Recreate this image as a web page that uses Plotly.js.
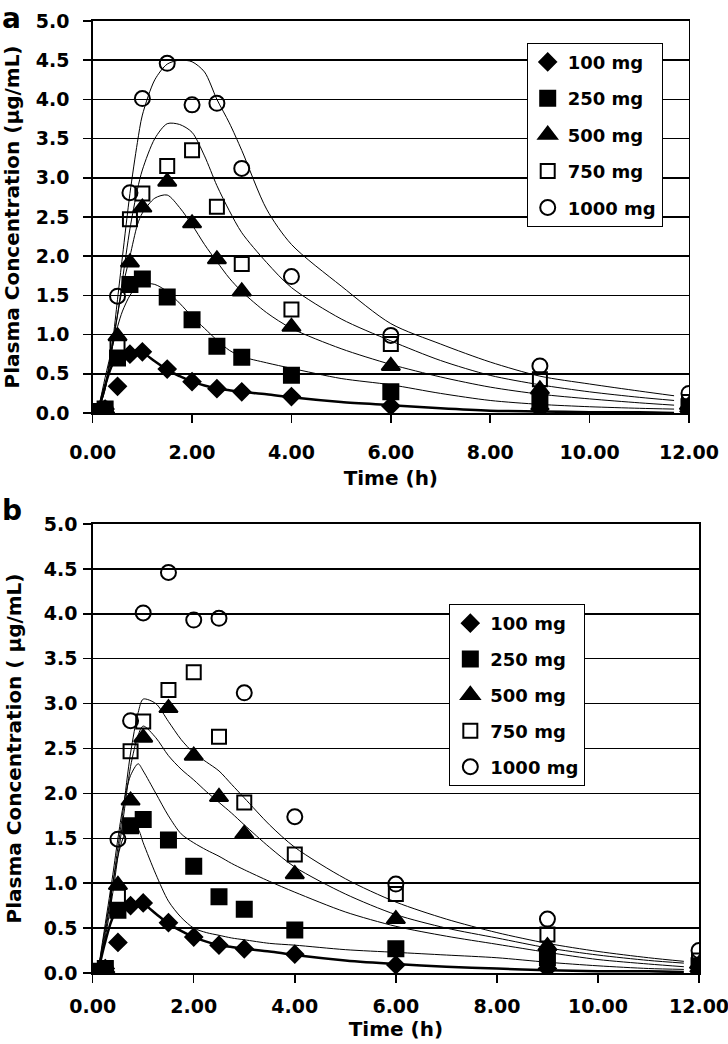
<!DOCTYPE html>
<html>
<head>
<meta charset="utf-8">
<script src="https://cdn.plot.ly/plotly-3.0.1.min.js"></script>
<style>body{margin:0;background:#fff}#plot{width:728px;height:1044px}</style>
</head>
<body>
<div id="plot"></div>
<script>
// observed concentrations (same in both panels)
var obsTime = [0, 0.25, 0.5, 0.75, 1, 1.5, 2, 2.5, 3, 4, 6, 9, 12];
var c100  = [0, 0.05, 0.34, 0.75, 0.78, 0.56, 0.40, 0.31, 0.27, 0.21, 0.09, 0.05, 0.02];
var c250  = [0.02, 0.05, 0.70, 1.64, 1.71, 1.48, 1.19, 0.85, 0.71, 0.48, 0.27, 0.17, 0.08];
var c500  = [0, 0.05, 0.98, 1.92, 2.62, 2.95, 2.42, 1.96, 1.55, 1.10, 0.60, 0.30, 0.10];
var c750  = [0, 0.05, 0.85, 2.47, 2.80, 3.15, 3.35, 2.63, 1.90, 1.32, 0.88, 0.43, 0.14];
var c1000 = [0, 0.05, 1.49, 2.81, 4.01, 4.46, 3.93, 3.95, 3.12, 1.74, 0.99, 0.60, 0.25];

// model curves
var fitTime = [0.1, 0.25, 0.4, 0.5, 0.6, 0.75, 0.9, 1.0, 1.25, 1.5, 1.75, 2.0, 2.25, 2.5, 2.75, 3.0, 3.5, 4.0, 5.0, 6.0, 7.0, 8.0, 9.0, 10.0, 11.0, 11.7];
// panel a
var fa100  = [0, 0.35, 0.62, 0.68, 0.72, 0.75, 0.77, 0.77, 0.66, 0.55, 0.47, 0.40, 0.35, 0.31, 0.29, 0.27, 0.24, 0.20, 0.14, 0.10, 0.06, 0.03, 0.02, 0.01, 0.01, 0.0];
var fa250  = [0, 0.45, 0.85, 1.10, 1.30, 1.50, 1.62, 1.65, 1.64, 1.55, 1.40, 1.23, 1.08, 0.93, 0.80, 0.72, 0.64, 0.57, 0.44, 0.36, 0.25, 0.16, 0.11, 0.08, 0.06, 0.05];
var fa500  = [0, 0.35, 0.90, 1.25, 1.60, 2.00, 2.40, 2.55, 2.74, 2.78, 2.62, 2.40, 2.15, 1.93, 1.72, 1.55, 1.28, 1.08, 0.82, 0.62, 0.46, 0.33, 0.24, 0.18, 0.13, 0.10];
var fa750  = [0, 0.30, 0.85, 1.25, 1.70, 2.35, 2.85, 3.10, 3.50, 3.69, 3.68, 3.58, 3.28, 2.90, 2.58, 2.30, 1.92, 1.60, 1.20, 0.92, 0.67, 0.48, 0.36, 0.27, 0.20, 0.16];
var fa1000 = [0, 0.30, 0.90, 1.45, 2.00, 2.80, 3.45, 3.80, 4.25, 4.45, 4.50, 4.48, 4.35, 4.00, 3.70, 3.35, 2.60, 2.15, 1.62, 1.14, 0.88, 0.65, 0.47, 0.37, 0.28, 0.22];
// panel b
var fb100  = [0, 0.35, 0.62, 0.68, 0.72, 0.75, 0.77, 0.77, 0.66, 0.55, 0.47, 0.40, 0.35, 0.31, 0.29, 0.27, 0.24, 0.20, 0.14, 0.10, 0.07, 0.05, 0.03, 0.02, 0.02, 0.01];
var fb250  = [0, 0.50, 1.00, 1.30, 1.50, 1.65, 1.60, 1.45, 1.10, 0.80, 0.62, 0.50, 0.45, 0.42, 0.39, 0.37, 0.33, 0.31, 0.26, 0.23, 0.20, 0.17, 0.12, 0.08, 0.05, 0.04];
var fb500  = [0, 0.55, 1.10, 1.50, 1.85, 2.20, 2.33, 2.25, 2.00, 1.75, 1.55, 1.45, 1.37, 1.30, 1.22, 1.15, 1.02, 0.90, 0.68, 0.52, 0.41, 0.32, 0.23, 0.15, 0.10, 0.07];
var fb750  = [0, 0.40, 0.90, 1.30, 1.70, 2.30, 2.65, 2.75, 2.62, 2.42, 2.27, 2.15, 2.02, 1.90, 1.78, 1.65, 1.40, 1.18, 0.88, 0.65, 0.50, 0.39, 0.28, 0.20, 0.14, 0.11];
var fb1000 = [0, 0.45, 1.00, 1.40, 1.80, 2.45, 2.90, 3.05, 3.00, 2.80, 2.60, 2.45, 2.35, 2.25, 2.10, 1.95, 1.65, 1.40, 1.05, 0.79, 0.60, 0.45, 0.33, 0.24, 0.17, 0.13];

var doseNames = ['100 mg', '250 mg', '500 mg', '750 mg', '1000 mg'];
var obsSets = [c100, c250, c500, c750, c1000];
var fitA = [fa100, fa250, fa500, fa750, fa1000];
var fitB = [fb100, fb250, fb500, fb750, fb1000];
var symbols = ['diamond', 'square', 'triangle-up', 'square-open', 'circle-open'];
var sizes = [13, 15, 16, 14, 15];

var data = [];
function addPanel(fits, xa, ya, leg) {
  fits.forEach(function (f, i) {
    data.push({
      x: fitTime, y: f, xaxis: xa, yaxis: ya, mode: 'lines', showlegend: false,
      line: {color: '#000', width: i === 0 ? 2.5 : 1, shape: 'spline', smoothing: 0.8},
      hoverinfo: 'skip'
    });
  });
  obsSets.forEach(function (c, i) {
    data.push({
      x: obsTime, y: c, xaxis: xa, yaxis: ya, mode: 'markers', name: doseNames[i],
      legend: leg, legendgroup: leg + i,
      marker: {symbol: symbols[i], size: sizes[i], color: '#000', line: {color: '#000', width: 2}}
    });
  });
}
addPanel(fitA, 'x', 'y', 'legend');
addPanel(fitB, 'x2', 'y2', 'legend2');

var fnt = {family: 'DejaVu Sans', size: 19, color: '#000', weight: 'bold'};
function xAx(dom, anchor, standoff, tstand) {
  return {
    domain: dom, anchor: anchor, range: [0, 12], dtick: 2, tick0: 0, tickformat: '.2f',
    ticks: 'outside', ticklen: 8, tickwidth: 1.5, tickcolor: '#000',
    showline: true, linewidth: 1.5, linecolor: '#000', mirror: true,
    showgrid: false, zeroline: false, tickfont: fnt, ticklabelstandoff: tstand,
    ticklabeloverflow: 'allow',
    title: {text: 'Time (h)', font: {family: 'DejaVu Sans', size: 20, weight: 'bold', color: '#000'}, standoff: standoff}
  };
}
function yAx(dom, anchor, titleText, standoff, tstand) {
  return {
    domain: dom, anchor: anchor, range: [0, 5], dtick: 0.5, tick0: 0, tickformat: '.1f',
    ticks: 'outside', ticklen: 8, tickwidth: 1.5, tickcolor: '#000',
    showline: true, linewidth: 1.5, linecolor: '#000', mirror: true,
    showgrid: true, gridcolor: '#000', gridwidth: 1.5, zeroline: false,
    tickfont: fnt, ticklabelstandoff: tstand,
    title: {text: titleText, font: {family: 'DejaVu Sans', size: 20, weight: 'bold', color: '#000'}, standoff: standoff}
  };
}

var legStyle = function (x, y, gap) {
  return {
    x: x, y: y, xanchor: 'left', yanchor: 'top', bgcolor: '#fff',
    bordercolor: '#000', borderwidth: 1, traceorder: 'grouped', tracegroupgap: gap,
    font: {family: 'DejaVu Sans', size: 18, color: '#000', weight: 'bold'}
  };
};

var layout = {
  width: 728, height: 1044,
  margin: {l: 0, r: 0, t: 0, b: 0},
  paper_bgcolor: '#fff', plot_bgcolor: '#fff',
  font: fnt,
  xaxis: xAx([0.1273, 0.9464], 'y', 8, 14),
  yaxis: yAx([0.6044, 0.9799], 'x', 'Plasma Concentration (µg/mL)', 12, 10),
  xaxis2: xAx([0.1273, 0.9602], 'y2', 4, 8),
  yaxis2: yAx([0.0680, 0.4981], 'x2', 'Plasma Concentration ( µg/mL)', 16, 2),
  legend: legStyle(0.7235, 0.9591, 10),
  legend2: legStyle(0.6172, 0.4215, 9.5),
  annotations: [
    {text: 'a', xref: 'paper', yref: 'paper', x: 0.0, y: 1.0, xanchor: 'left', yanchor: 'top', showarrow: false,
     font: {family: 'DejaVu Sans', size: 28, weight: 'bold', color: '#000'}},
    {text: 'b', xref: 'paper', yref: 'paper', x: 0.0, y: 1 - 492 / 1044, xanchor: 'left', yanchor: 'top', showarrow: false,
     font: {family: 'DejaVu Sans', size: 28, weight: 'bold', color: '#000'}}
  ]
};

Plotly.newPlot('plot', data, layout, {staticPlot: true});
</script>
</body>
</html>
